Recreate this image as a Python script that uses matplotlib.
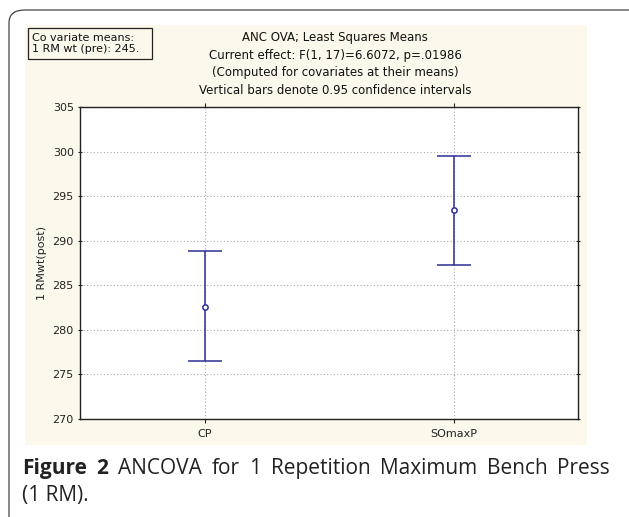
import matplotlib.pyplot as plt
from matplotlib.patches import FancyBboxPatch, Rectangle

groups = ['CP', 'SOmaxP']
means = [282.6, 293.4]
lower = [276.5, 287.3]
upper = [288.8, 299.5]
yticks = [270, 275, 280, 285, 290, 295, 300, 305]

title_lines = ['ANC OVA; Least Squares Means',
               'Current effect: F(1, 17)=6.6072, p=.01986',
               '(Computed for covariates at their means)',
               'Vertical bars denote 0.95 confidence intervals']
cov_text = 'Co variate means:\n1 RM wt (pre): 245.'
caption_bold = ['Figure', '2']
caption_words = ['ANCOVA', 'for', '1', 'Repetition', 'Maximum', 'Bench', 'Press']
caption_line2 = '(1 RM).'

W, H = 629, 517
fig = plt.figure(figsize=(W / 100, H / 100), dpi=100)
fig.patch.set_facecolor('white')

# outer frame (rounded top-left corner), and cream chart panel
frame = FancyBboxPatch((9 / W, -0.2), 1.2, (H - 10) / H + 0.2,
                       boxstyle='round,pad=0,rounding_size=0.025',
                       transform=fig.transFigure, fill=False,
                       edgecolor='#444444', linewidth=0.9, zorder=-2)
fig.patches.append(frame)
fig.patches.append(Rectangle((25 / W, 1 - 445 / H), 562 / W, 420 / H,
                             transform=fig.transFigure, zorder=-1,
                             facecolor='#fcf8ec', edgecolor='none'))

ax = fig.add_axes([80 / W, 1 - 419 / H, 498 / W, 312 / H])
ax.set_facecolor('white')

x = list(range(len(groups)))
err = [[m - l for m, l in zip(means, lower)],
       [u - m for m, u in zip(means, upper)]]
ax.errorbar(x, means, yerr=err, fmt='o', color='#2e2e96', ecolor='#2e2e96',
            markersize=3.8, markerfacecolor='white', markeredgewidth=1.1,
            elinewidth=1.1, capsize=12, capthick=1.1, zorder=5)

ax.set_xlim(-0.5, 1.5)
ax.set_ylim(270, 305)
ax.set_yticks(yticks)
ax.set_xticks(x)
ax.set_xticklabels(groups)
ax.tick_params(axis='both', labelsize=8, length=3, direction='out',
               colors='#222222')
ax.tick_params(axis='y', right=True, direction='inout', pad=3)
ax.tick_params(axis='x', top=True, pad=4)
ax.grid(True, linestyle=(0, (1, 2)), color='#aaaaaa', linewidth=0.8)
for s in ax.spines.values():
    s.set_color('#222222')
    s.set_linewidth(1.0)
ax.set_ylabel('1 RMwt(post)', fontsize=8, labelpad=4, color='#222222')

title_y = [37, 55, 73, 90]
for line, ty in zip(title_lines, title_y):
    fig.text(335 / W, 1 - ty / H, line, ha='center', va='center',
             fontsize=8.5, color='#111111')

fig.text(32 / W, 1 - 43.5 / H, cov_text, ha='left', va='center',
         fontsize=8, linespacing=1.2, color='#111111')
fig.patches.append(Rectangle((28 / W, 1 - 59 / H), 124 / W, 31 / H,
                             transform=fig.transFigure, fill=False,
                             edgecolor='#222222', linewidth=0.9))

# justified caption line
renderer = fig.canvas.get_renderer()
items = [(w, 'bold') for w in caption_bold] + [(w, 'normal') for w in caption_words]
texts = []
for w, wt in items:
    t = fig.text(0, 1 - 474 / H, w, ha='left', va='baseline', fontsize=15,
                 weight=wt, family='Open Sans', color='#222222')
    texts.append(t)
widths = [t.get_window_extent(renderer).width for t in texts]
gap = (610 - 22 - sum(widths)) / (len(texts) - 1)
pos = 22
for t, wd in zip(texts, widths):
    t.set_x(pos / W)
    pos += wd + gap
fig.text(22 / W, 1 - 501 / H, caption_line2, ha='left', va='baseline',
         fontsize=15, family='Open Sans', color='#222222')

fig.savefig('out.png', dpi=100)
